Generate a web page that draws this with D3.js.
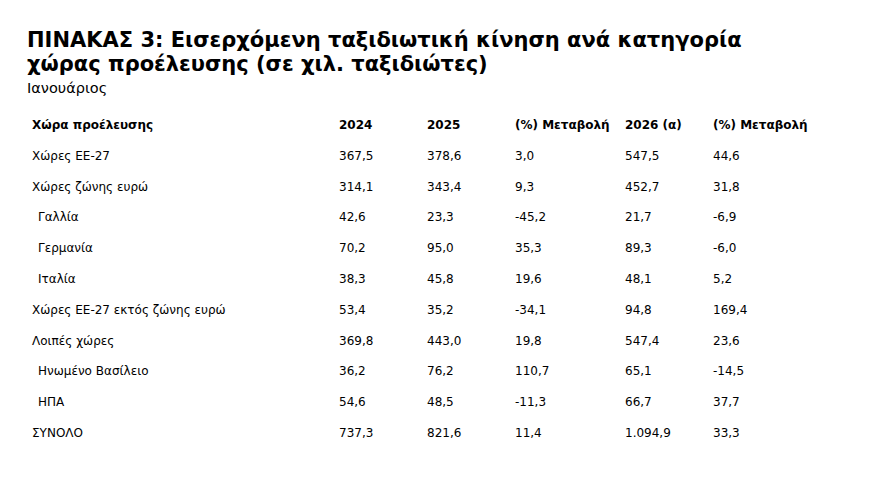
<!DOCTYPE html>
<html><head><meta charset="utf-8">
<script src="https://cdn.jsdelivr.net/npm/d3@7"></script>
<style>body{margin:0;background:#fff}text{font-family:"DejaVu Sans",sans-serif;fill:#000}</style>
</head><body>
<svg id="chart" width="880" height="502"></svg>
<script>
const headers = ['Χώρα προέλευσης', '2024', '2025', '(%) Μεταβολή', '2026 (α)', '(%) Μεταβολή'];
const countries = ['Χώρες ΕΕ-27', 'Χώρες ζώνης ευρώ', 'Γαλλία', 'Γερμανία', 'Ιταλία',
	'Χώρες ΕΕ-27 εκτός ζώνης ευρώ', 'Λοιπές χώρες', 'Ηνωμένο Βασίλειο', 'ΗΠΑ', 'ΣΥΝΟΛΟ'];
const indented = [false, false, true, true, true, false, false, true, true, false];
const v2024 = ['367,5', '314,1', '42,6', '70,2', '38,3', '53,4', '369,8', '36,2', '54,6', '737,3'];
const v2025 = ['378,6', '343,4', '23,3', '95,0', '45,8', '35,2', '443,0', '76,2', '48,5', '821,6'];
const chg25 = ['3,0', '9,3', '-45,2', '35,3', '19,6', '-34,1', '19,8', '110,7', '-11,3', '11,4'];
const v2026 = ['547,5', '452,7', '21,7', '89,3', '48,1', '94,8', '547,4', '65,1', '66,7', '1.094,9'];
const chg26 = ['44,6', '31,8', '-6,9', '-6,0', '5,2', '169,4', '23,6', '-14,5', '37,7', '33,3'];

const svg = d3.select('#chart');

svg.append('text').attr('x', 27).attr('y', 47)
	.style('font-size', '21px').style('font-weight', 'bold')
	.text('ΠΙΝΑΚΑΣ 3: Εισερχόμενη ταξιδιωτική κίνηση ανά κατηγορία');
svg.append('text').attr('x', 27).attr('y', 71)
	.style('font-size', '21px').style('font-weight', 'bold')
	.text('χώρας προέλευσης (σε χιλ. ταξιδιώτες)');
svg.append('text').attr('x', 27).attr('y', 93)
	.style('font-size', '14.5px').text('Ιανουάριος');

const colX = [32, 339, 427, 515, 625, 713];
const y = d3.scalePoint().domain(d3.range(countries.length + 1)).range([129, 437]);

// header
svg.append('g').selectAll('text').data(headers).enter()
	.append('text')
	.attr('x', (d, i) => colX[i]).attr('y', y(0))
	.style('font-size', '12px').style('font-weight', 'bold')
	.text(d => d);

const rows = countries.map((c, i) => [c, v2024[i], v2025[i], chg25[i], v2026[i], chg26[i]]);

const gRows = svg.append('g').selectAll('g').data(rows).enter()
	.append('g')
	.attr('transform', (d, i) => 'translate(0,' + y(i + 1) + ')');

gRows.each(function(row, ri) {
	d3.select(this).selectAll('text').data(row).enter()
		.append('text')
		.attr('x', (d, ci) => colX[ci] + (ci === 0 && indented[ri] ? 6 : 0))
		.attr('y', 0)
		.style('font-size', '12px')
		.text(d => d);
});
</script>
</body></html>
